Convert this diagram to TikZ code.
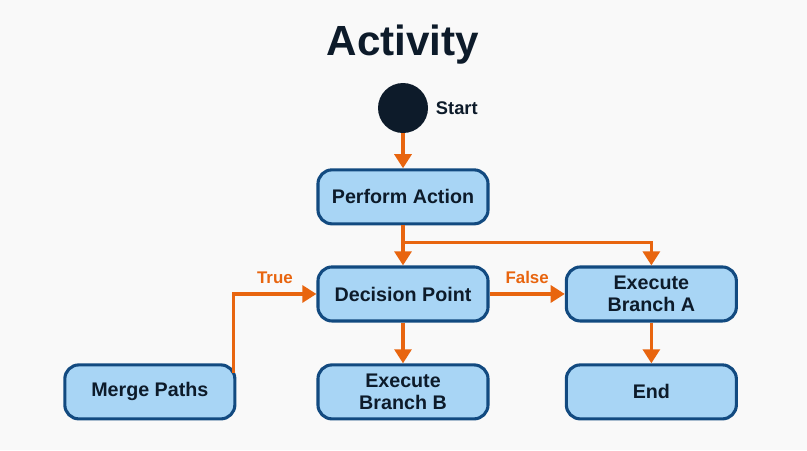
\documentclass[tikz,border=0pt]{standalone}
\usepackage{fontspec}
\setmainfont{Liberation Sans}
\usetikzlibrary{arrows.meta,positioning,calc}
\definecolor{Paper}{HTML}{F9F9F9}
\definecolor{Ink}{HTML}{0D1B2A}
\definecolor{BoxFill}{HTML}{A8D5F5}
\definecolor{BoxLine}{HTML}{124A80}
\definecolor{Flow}{HTML}{E8650F}
\tikzset{
  act/.style={draw=BoxLine, fill=BoxFill, rounded corners=10pt, line width=2.2pt, align=center, text=Ink, font=\bfseries\fontsize{14}{15.5}\selectfont, minimum width=4.25cm, minimum height=1.35cm, inner sep=2pt},
  arrow/.style={-{Triangle[length=10pt,width=12pt]}, line width=2.4pt, draw=Flow},
  guard/.style={text=Flow, font=\bfseries\fontsize{12}{14}\selectfont}
}

\begin{document}
\begin{tikzpicture}[x=0.025cm, y=-0.025cm, node distance=1cm]
  \fill[Paper] (0,0) rectangle (807,450);
  \node[text=Ink, font=\bfseries\fontsize{30}{36}\selectfont, anchor=base] (title) at (403,55) {Activity};
  \node[circle, fill=Ink, minimum size=1.25cm, inner sep=0pt] (start) at (403,108) {};
  \node[text=Ink, font=\bfseries\fontsize{13}{15}\selectfont, right=0.15cm of start, inner sep=1pt] (startlbl) {Start};

  \node[act, below=0.875cm of start] (pa) {Perform Action};
  \node[act, below=of pa] (dp) {Decision Point};
  \node[act, right=1.88cm of dp] (ea) {Execute\\Branch A};
  \node[act, below=1.02cm of dp] (eb) {Execute\\Branch B};
  \node[act, below=1.02cm of ea] (en) {End};
  \node[act, left=2.0cm of eb] (mp) {Merge Paths};

  \draw[arrow] (start) -- (pa);
  \draw[arrow] (pa) -- (dp);
  \coordinate (split) at ($(pa.south)!0.425!(dp.north)$);
  \draw[arrow] (split) -| (ea.north);
  \draw[arrow] (dp) -- node[guard, above=3pt] {False} (ea);
  \draw[arrow] (dp) -- (eb);
  \draw[arrow] (ea) -- (en);
  \draw[arrow] ([shift={(-3,10)}]mp.north east) |- node[guard, above=3pt, pos=0.75] {True} (dp.west);
\end{tikzpicture}
\end{document}
